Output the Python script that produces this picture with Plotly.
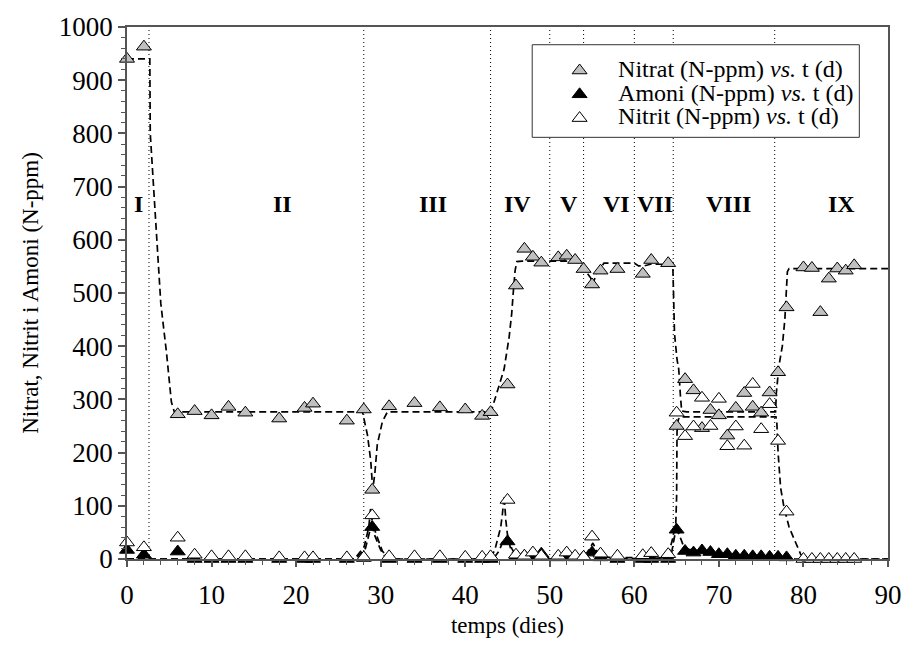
import plotly.graph_objects as go

# ---- measured data ----
t_nitrat = [0, 2, 6, 8, 10, 12, 14, 18, 21, 22, 26, 28, 29, 31, 34, 37, 40, 42, 43, 45, 46, 47, 48, 49,
            51, 52, 53, 54, 55, 56, 58, 61, 62, 64, 65, 66, 67, 68, 69, 70, 71, 72, 73, 74, 75, 76, 77, 78,
            80, 81, 82, 83, 84, 85, 86]
nitrat = [940, 963, 272, 278, 270, 286, 275, 264, 284, 292, 260, 281, 130, 287, 293, 285, 281, 269, 276, 328, 514, 583, 568, 557,
          567, 570, 562, 545, 516, 542, 545, 536, 562, 556, 250, 338, 317, 246, 280, 270, 232, 284, 312, 286, 275, 313, 351, 473,
          548, 547, 464, 527, 546, 542, 552]

t_amoni = [0, 2, 6, 8, 10, 12, 14, 18, 21, 22, 26, 28, 29, 31, 34, 37, 40, 42, 43, 45, 46, 47, 48, 49,
           51, 52, 53, 54, 55, 56, 58, 61, 62, 64, 65, 66, 67, 68, 69, 70, 71, 72, 73, 74, 75, 76, 77, 78]
amoni = [17, 8, 14, 0, 0, 0, 0, 0, 0, 0, 0, 2, 60, 0, 0, 0, 0, 0, 0, 33, 4, 6, 4, 10,
         3, 5, 3, 4, 12, 3, 0, 0, 0, 0, 55, 15, 12, 16, 13, 9, 9, 6, 6, 5, 5, 4, 4, 3]

t_nitrit = [0, 2, 6, 8, 10, 12, 14, 18, 21, 22, 26, 28, 29, 31, 34, 37, 40, 42, 43, 45, 46, 47, 48, 49,
            51, 52, 53, 54, 55, 56, 58, 61, 62, 64, 65, 66, 67, 68, 69, 70, 71, 72, 73, 74, 75, 76, 77, 78,
            80, 81, 82, 83, 84, 85, 86]
nitrit = [31, 22, 40, 8, 5, 5, 5, 3, 3, 3, 3, 3, 82, 5, 5, 5, 4, 4, 5, 111, 8, 6, 12, 6,
          6, 12, 6, 4, 42, 10, 6, 7, 11, 9, 275, 231, 249, 303, 250, 301, 212, 249, 213, 329, 244, 291, 222, 89,
          0, 0, 0, 0, 0, 0, 0]

# fitted (model) curves
fit_nitrat_t = [0, 2.7, 2.75, 3.3, 4.0, 4.67, 5.25, 5.6, 27.85, 28.44, 28.83, 29.06, 29.3, 29.6, 30.2, 30.8,
                43.05, 43.6, 44.0, 44.6, 45.2, 45.5, 45.7, 45.9, 46.1, 46.7, 53.05, 53.95, 54.85, 55.1, 55.5,
                56.4, 60.0, 60.5, 61.2, 61.9, 64.55, 64.62, 64.75, 65.05, 65.25, 65.45, 65.6, 66.2, 76.7,
                76.8, 77.1, 77.5, 77.8, 78.0, 78.1, 78.3, 90]
fit_nitrat = [940, 940, 800, 659, 480, 388, 295, 276.5, 276.5, 233, 184, 131, 159, 215, 258, 276.5,
              276.5, 305, 326, 357, 418, 462, 505, 542, 559, 560, 560, 548, 528, 517, 536,
              556, 556, 551, 551, 554, 554, 517, 424, 375, 357, 307, 278, 276.5, 276.5,
              313, 363, 400, 450, 510, 540, 546, 546]

fit_amoni_t = [0, 27.0, 28.2, 28.7, 29.0, 29.5, 30.2, 31.0, 43.3, 44.0, 44.5, 45.0, 45.5, 46.2, 54.2, 54.7,
               55.1, 55.6, 56.2, 64.3, 64.6, 64.9, 65.25, 65.85, 66.4, 68, 70, 72, 74, 76, 78, 79, 90]
fit_amoni = [0, 0, 20, 55, 70, 45, 15, 0, 0, 15, 35, 38, 20, 0, 0, 8,
             12, 8, 0, 2, 30, 55, 48, 23, 18, 14, 10, 8, 6, 5, 3, 0, 0]

fit_nitrit_t = [0, 26.9, 28.05, 28.6, 28.8, 29.2, 30.0, 30.6, 31.2, 43.05, 43.6, 44.2, 44.4, 44.6, 44.8, 45.0,
                45.4, 46.0, 54.0, 54.5, 55.1, 55.6, 56.2, 63.9, 64.5, 64.9, 65.0, 65.05, 65.2, 65.4, 76.75,
                76.85, 77.0, 77.1, 77.3, 77.7, 78.3, 79.1, 79.7, 80.3, 90]
fit_nitrit = [0, 0, 23, 60, 94, 48, 17, 2, 0, 0, 23, 60, 85, 119, 73, 45,
              17, 3, 3, 14, 30, 14, 3, 2, 36, 67, 116, 240, 262, 267, 267,
              258, 200, 178, 134, 97, 60, 30, 8, 0, 0]

phase_bounds = [2.6, 28, 43, 50, 54, 60, 64.6, 76.6]
phase_labels = ["I", "II", "III", "IV", "V", "VI", "VII", "VIII", "IX"]
phase_label_x = [1.4, 18.4, 36.2, 46.2, 52.3, 57.9, 62.4, 71.1, 84.5]
phase_label_y = 668

series_names = ["Nitrat (N-ppm) <i>vs.</i> t (d)", "Amoni (N-ppm) <i>vs.</i> t (d)", "Nitrit (N-ppm) <i>vs.</i> t (d)"]

FONT = "Liberation Serif"
dash = "7px,4px"

# plot-area pixel geometry (for paper-coordinate placement of the legend box)
L, R, T, B = 127, 17, 19, 101
W, H = 914, 660
PW, PH = W - L - R, H - T - B
def px_x(p): return (p - L) / PW
def px_y(p): return (H - B - p) / PH

fig = go.Figure()

# fitted curves (no legend)
for tx, ty in [(fit_nitrat_t, fit_nitrat), (fit_amoni_t, fit_amoni), (fit_nitrit_t, fit_nitrit)]:
    fig.add_trace(go.Scatter(x=tx, y=ty, mode="lines", showlegend=False, hoverinfo="skip",
                             line=dict(color="black", width=1.7, dash=dash), cliponaxis=False))

sym = "triangle-up"
msize = 13
def lname(s):
    return '<span style="font-size:24px">%s</span>' % s

fig.add_trace(go.Scatter(x=t_nitrat, y=nitrat, mode="markers", name=lname(series_names[0]),
                         marker=dict(symbol=sym, size=msize, color="#c0c0c0", line=dict(color="black", width=1)),
                         cliponaxis=False))
fig.add_trace(go.Scatter(x=t_amoni, y=amoni, mode="markers", name=lname(series_names[1]),
                         marker=dict(symbol=sym, size=msize, color="black", line=dict(color="black", width=1)),
                         cliponaxis=False))
fig.add_trace(go.Scatter(x=t_nitrit, y=nitrit, mode="markers", name=lname(series_names[2]),
                         marker=dict(symbol=sym, size=msize, color="white", line=dict(color="black", width=1)),
                         cliponaxis=False))

for b in phase_bounds:
    fig.add_shape(type="line", x0=b, x1=b, y0=0, y1=1, xref="x", yref="paper",
                  line=dict(color="black", width=1, dash="1px,3px"), layer="below")

# legend frame
fig.add_shape(type="rect", xref="paper", yref="paper",
              x0=px_x(537), x1=px_x(868), y0=px_y(131), y1=px_y(37),
              line=dict(color="#333", width=1), fillcolor="white", layer="below")

for lab, lx in zip(phase_labels, phase_label_x):
    fig.add_annotation(x=lx, y=phase_label_y, text="<b>%s</b>" % lab, showarrow=False,
                       font=dict(family=FONT, size=24, color="black"), xanchor="center", yanchor="middle")

fig.update_layout(
    width=W, height=H,
    margin=dict(l=L, r=R, t=T, b=B),
    paper_bgcolor="white", plot_bgcolor="white",
    font=dict(family=FONT, color="black"),
    showlegend=True,
    legend=dict(x=px_x(546), y=px_y(46), xanchor="left", yanchor="top",
                bgcolor="rgba(0,0,0,0)", borderwidth=0,
                font=dict(family=FONT, size=16, color="black"),
                itemwidth=67, tracegroupgap=0),
    xaxis=dict(range=[0, 90], dtick=10, showgrid=False, zeroline=False,
               showline=True, linecolor="#555", linewidth=1.5, mirror=True,
               ticks="outside", ticklen=6, tickcolor="#555", tickwidth=1.5,
               minor=dict(dtick=2, ticks="outside", ticklen=4, tickcolor="#555", tickwidth=1),
               tickfont=dict(family=FONT, size=27, color="black"), ticklabelstandoff=5,
               title=dict(text="temps (dies)", font=dict(family=FONT, size=23, color="black"), standoff=8)),
    yaxis=dict(range=[0, 1000], dtick=100, showgrid=False, zeroline=False,
               showline=True, linecolor="#555", linewidth=1.5, mirror=True,
               ticks="outside", ticklen=7, tickcolor="#555", tickwidth=1.5,
               minor=dict(dtick=20, ticks="outside", ticklen=4, tickcolor="#555", tickwidth=1),
               tickfont=dict(family=FONT, size=27, color="black"),
               title=dict(text="Nitrat, Nitrit i Amoni (N-ppm)", font=dict(family=FONT, size=23, color="black"),
                          standoff=14)),
)

fig.write_html("out.html")
